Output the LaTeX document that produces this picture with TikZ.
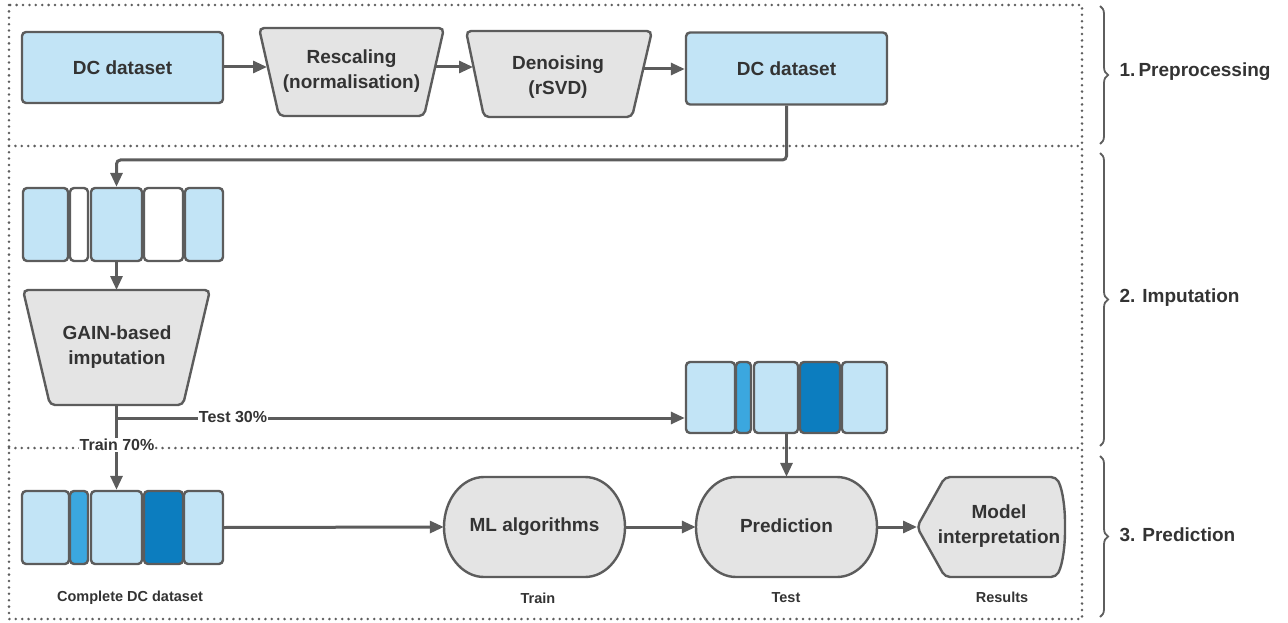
\documentclass[tikz,border=0pt]{standalone}
\usepackage{fontspec}
\setmainfont{Liberation Sans}
\usetikzlibrary{arrows.meta,decorations.pathreplacing,calc}
\definecolor{lb}{HTML}{C2E4F6}
\definecolor{mb}{HTML}{3BA7DF}
\definecolor{db}{HTML}{0C7DBF}
\definecolor{gf}{HTML}{E4E4E4}
\definecolor{ln}{HTML}{5C5C5C}
\definecolor{tx}{HTML}{333333}
\definecolor{dt}{HTML}{5E5E5E}
\begin{document}
\begin{tikzpicture}[x=1pt,y=-1pt,
  every node/.style={text=tx},
  big/.style={font=\fontsize{19}{25}\selectfont\bfseries, align=center},
  small/.style={font=\fontsize{14.5}{17}\selectfont\bfseries},
  mid/.style={font=\fontsize{16}{19}\selectfont\bfseries, fill=white, inner sep=1pt},
  dbox/.style={draw=ln, line width=2.4pt, rounded corners=4pt, inner sep=0pt},
  cell/.style={dbox, minimum height=73pt},
  proc/.style={draw=ln, fill=gf, line width=2.4pt, rounded corners=5pt},
  arr/.style={draw=ln, line width=3pt, -{Triangle[length=14pt,width=12pt]}},
  dotline/.style={draw=dt, line width=2.8pt, dash pattern=on 0pt off 6.4pt, line cap=round},
  brc/.style={draw=dt, line width=1.8pt, decorate, decoration={brace, amplitude=8pt}},
  lbl/.style={font=\fontsize{19}{24}\selectfont\bfseries, anchor=west}
]
\useasboundingbox (0,0) rectangle (1288,623);

% section frames
\draw[dotline] (9,5) rectangle (1082,619);
\draw[dotline] (9,146) -- (1082,146);
\draw[dotline] (9,448) -- (1082,448);

% braces and section labels
\draw[brc] (1100,6) -- (1100,144);
\draw[brc] (1100,153) -- (1100,446);
\draw[brc] (1100,456) -- (1100,617);
\node[lbl] (s1) at (1116,72) {1.\,Preprocessing};
\node[lbl] (s2) at (1116,298) {2. Imputation};
\node[lbl] (s3) at (1116,535) {3. Prediction};

% section 1
\node[dbox, fill=lb, minimum width=201pt, minimum height=71pt, big] (dcA) at (122.5,67.5) {DC dataset};
\draw[proc] (259,28) -- (444,28) -- (424,116) -- (279,116) -- cycle;
\node[big] (resc) at (351.5,71) {Rescaling\\(normalisation)};
\draw[proc] (466,31) -- (652,31) -- (632,117) -- (484,117) -- cycle;
\node[big] (deno) at (558,77) {Denoising\\(rSVD)};
\node[dbox, fill=lb, minimum width=201pt, minimum height=72pt, big] (dcB) at (786.5,68.5) {DC dataset};
\coordinate (rescL) at (267,67);
\coordinate (rescR) at (435,67);
\coordinate (denoL) at (473,67);
\coordinate (denoR) at (643,69);
\draw[arr] (dcA.east |- rescL) -- (rescL);
\draw[arr] (rescR) -- (denoL);
\draw[arr] (denoR) -- (dcB.west |- denoR);

% section 2: dataset with gaps
\node[cell, fill=lb, minimum width=45pt] (m1) at (45.5,224.5) {};
\node[cell, fill=white, minimum width=18pt] (m2) at (79,224.5) {};
\node[cell, fill=lb, minimum width=51pt] (m3) at (116.5,224.5) {};
\node[cell, fill=white, minimum width=39pt] (m4) at (163.5,224.5) {};
\node[cell, fill=lb, minimum width=38pt] (m5) at (204,224.5) {};
\coordinate (bend) at (786.5,160);
\draw[arr, rounded corners=4pt] (dcB.south) -- (bend) -| (m3.north);

% GAIN
\draw[proc] (23,290) -- (210,290) -- (183,405) -- (50,405) -- cycle;
\node[big] (gain) at (117,347) {GAIN-based\\imputation};
\coordinate (gainT) at (116.5,290);
\coordinate (gainB) at (116.5,405);
\coordinate (split) at (116.5,418);
\draw[arr] (m3.south) -- (gainT);

% test dataset
\node[cell, fill=lb, minimum width=49pt, minimum height=71pt] (t1) at (710.5,397.5) {};
\node[cell, fill=mb, minimum width=15pt, minimum height=71pt] (t2) at (743.5,397.5) {};
\node[cell, fill=lb, minimum width=44pt, minimum height=71pt] (t3) at (776,397.5) {};
\node[cell, fill=db, minimum width=40pt, minimum height=71pt] (t4) at (820,397.5) {};
\node[cell, fill=lb, minimum width=45pt, minimum height=71pt] (t5) at (864.5,397.5) {};

% section 3: complete dataset
\node[cell, fill=lb, minimum width=47pt] (r1) at (45.5,527.5) {};
\node[cell, fill=mb, minimum width=18pt] (r2) at (79,527.5) {};
\node[cell, fill=lb, minimum width=51pt] (r3) at (116.5,527.5) {};
\node[cell, fill=db, minimum width=39pt] (r4) at (163.5,527.5) {};
\node[cell, fill=lb, minimum width=39pt] (r5) at (203.5,527.5) {};

% split connectors
\draw[arr] (gainB) -- (r3.north);
\draw[arr] (split) -- (t1.west |- split);
\node[mid] (test30) at (233,417) {Test 30\%};
\node[mid] (train70) at (117,445) {Train 70\%};

% ML algorithms
\node[minimum width=181pt, minimum height=100pt, inner sep=0pt] (ml) at (534.5,527) {};
\draw[proc, rounded corners=0pt] (484,477) -- (585,477) .. controls (607,477) and (625,499.4) .. (625,527) .. controls (625,554.6) and (607,577) .. (585,577) -- (484,577) .. controls (462,577) and (444,554.6) .. (444,527) .. controls (444,499.4) and (462,477) .. (484,477) -- cycle;
\node[big] (mlt) at (ml.center) {ML algorithms};

% Prediction
\node[minimum width=181pt, minimum height=100pt, inner sep=0pt] (pred) at (786.5,527) {};
\draw[proc, rounded corners=0pt] (736,477) -- (837,477) .. controls (859,477) and (877,499.4) .. (877,527) .. controls (877,554.6) and (859,577) .. (837,577) -- (736,577) .. controls (714,577) and (696,554.6) .. (696,527) .. controls (696,499.4) and (714,477) .. (736,477) -- cycle;
\node[big] (predt) at (786.5,526) {Prediction};

% Model interpretation
\draw[proc] (945,477) -- (1056,477) .. controls (1063,490) and (1065,510) .. (1065,527) .. controls (1065,544) and (1063,564) .. (1056,577) -- (945,577) -- (917,527) -- cycle;
\node[big] (interp) at (999,526) {Model\\interpretation};
\coordinate (interpL) at (917,527);

% flow arrows
\draw[arr] (r5.east) -- (ml.west);
\draw[arr] (ml.east) -- (pred.west);
\draw[arr] (pred.east) -- (interpL);
\draw[arr] (pred.north |- t3.south) -- (pred.north);

% captions
\node[small] (c1) at (130,598) {Complete DC dataset};
\node[small] (c2) at (538,598) {Train};
\node[small] (c3) at (786,598) {Test};
\node[small] (c4) at (1002,597) {Results};
\end{tikzpicture}
\end{document}
